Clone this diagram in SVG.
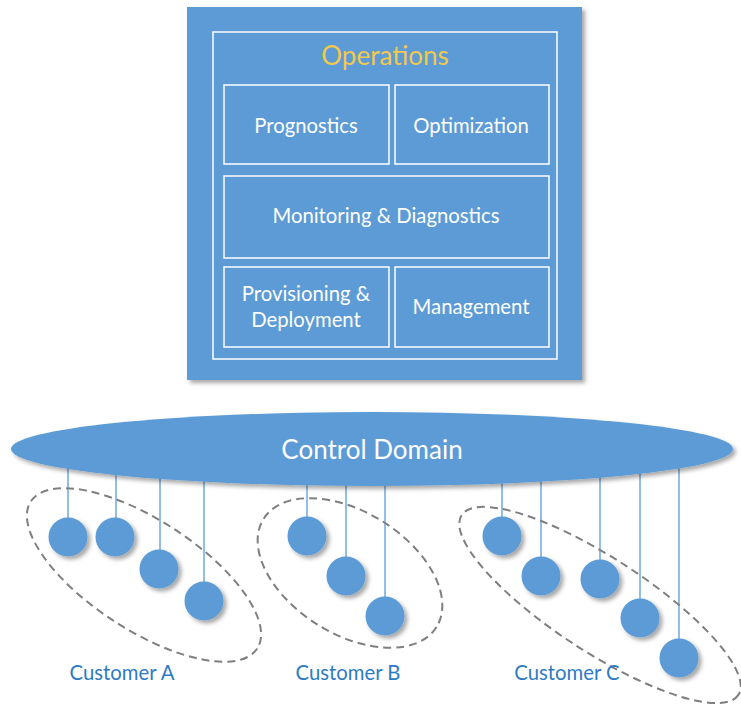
<svg xmlns="http://www.w3.org/2000/svg" width="741" height="708" viewBox="0 0 741 708">
<defs>
<filter id="sh" x="-10%" y="-10%" width="130%" height="130%">
<feDropShadow dx="3" dy="3" stdDeviation="2" flood-color="#000" flood-opacity="0.35"/>
</filter>
<style>
.blue{fill:#5B9BD5}
.sub{fill:none;stroke:#FFFFFF;stroke-width:1.5}
.lbl{font-family:Lato,"Liberation Sans",sans-serif;font-size:20.3px;fill:#FFFFFF;text-anchor:middle}
.cust{font-family:Lato,"Liberation Sans",sans-serif;font-size:20.3px;fill:#2E7BC4;text-anchor:middle}
.wire{stroke:#6FA8DC;stroke-width:1.5}
.grp{fill:none;stroke:#7F7F7F;stroke-width:2;stroke-dasharray:8 5}
.node{fill:#5B9BD5;filter:url(#sh)}
</style>
</defs>
<g id="operations">
<rect x="187" y="7" width="395" height="373" class="blue" filter="url(#sh)"/>
<rect x="213" y="32" width="344" height="327" class="sub"/>
<text x="385" y="65" font-family="Lato,'Liberation Sans',sans-serif" font-size="26" fill="#F2C94C" text-anchor="middle">Operations</text>
</g>
<g id="prognostics">
<rect x="224" y="85" width="165" height="79" class="sub"/>
<text x="306" y="133" class="lbl">Prognostics</text>
</g>
<g id="optimization">
<rect x="395" y="85" width="154" height="79" class="sub"/>
<text x="471" y="133" class="lbl">Optimization</text>
</g>
<g id="monitoring">
<rect x="224" y="176" width="325" height="82" class="sub"/>
<text x="386" y="223" class="lbl">Monitoring &amp; Diagnostics</text>
</g>
<g id="provisioning">
<rect x="224" y="267" width="165" height="80" class="sub"/>
<text x="306" y="301" class="lbl">Provisioning &amp;</text>
<text x="306" y="327" class="lbl">Deployment</text>
</g>
<g id="management">
<rect x="395" y="267" width="154" height="80" class="sub"/>
<text x="471" y="314" class="lbl">Management</text>
</g>
<g id="connectors">
<line class="wire" x1="68" y1="465" x2="68" y2="518"/>
<line class="wire" x1="116" y1="472" x2="116" y2="518"/>
<line class="wire" x1="160" y1="476" x2="160" y2="550"/>
<line class="wire" x1="204" y1="480" x2="204" y2="582"/>
<line class="wire" x1="307" y1="484" x2="307" y2="517"/>
<line class="wire" x1="346" y1="484" x2="346" y2="557"/>
<line class="wire" x1="385" y1="484" x2="385" y2="597"/>
<line class="wire" x1="502" y1="482" x2="502" y2="517"/>
<line class="wire" x1="541" y1="480" x2="541" y2="557"/>
<line class="wire" x1="600" y1="476" x2="600" y2="560"/>
<line class="wire" x1="640" y1="472" x2="640" y2="599"/>
<line class="wire" x1="679" y1="466" x2="679" y2="639"/>
</g>
<g id="control-domain">
<ellipse cx="372" cy="449" rx="361" ry="37" class="blue" filter="url(#sh)"/>
<text x="372" y="459" font-family="Lato,'Liberation Sans',sans-serif" font-size="26" fill="#FFFFFF" text-anchor="middle">Control Domain</text>
</g>
<g id="customer-a">
<ellipse class="grp" cx="144" cy="575" rx="135" ry="55" transform="rotate(33 144 575)"/>
<circle class="node" cx="68" cy="537" r="19.5"/>
<circle class="node" cx="115" cy="537" r="19.5"/>
<circle class="node" cx="159" cy="569" r="19.5"/>
<circle class="node" cx="204" cy="601" r="19.5"/>
<text x="122" y="680" class="cust">Customer A</text>
</g>
<g id="customer-b">
<ellipse class="grp" cx="350" cy="573" rx="102" ry="61" transform="rotate(32 350 573)"/>
<circle class="node" cx="307" cy="536" r="19.5"/>
<circle class="node" cx="346" cy="576" r="19.5"/>
<circle class="node" cx="385" cy="616" r="19.5"/>
<text x="348" y="680" class="cust">Customer B</text>
</g>
<g id="customer-c">
<ellipse class="grp" cx="600" cy="605" rx="165" ry="47" transform="rotate(33 600 605)"/>
<circle class="node" cx="502" cy="536" r="19.5"/>
<circle class="node" cx="541" cy="576" r="19.5"/>
<circle class="node" cx="600" cy="579" r="19.5"/>
<circle class="node" cx="640" cy="618" r="19.5"/>
<circle class="node" cx="679" cy="658" r="19.5"/>
<text x="567" y="680" class="cust">Customer C</text>
</g>
</svg>
